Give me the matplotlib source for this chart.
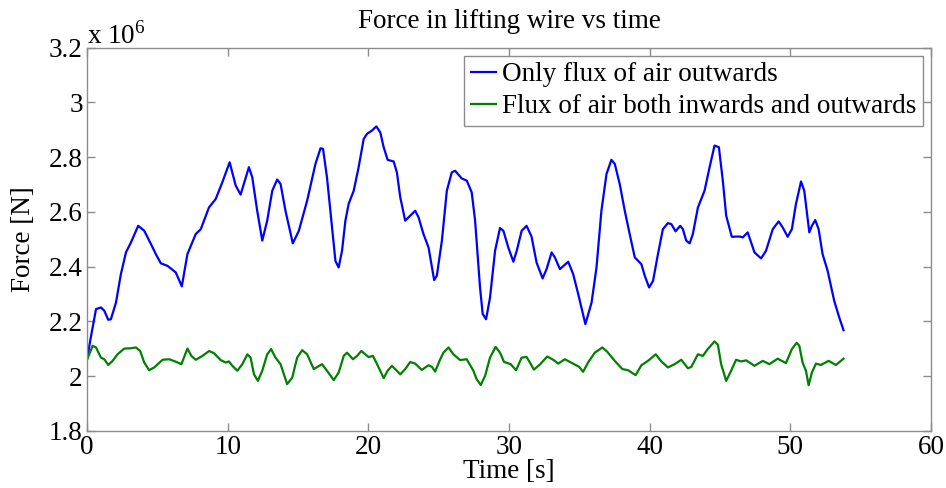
import matplotlib
matplotlib.use("Agg")
import matplotlib.pyplot as plt
from matplotlib.ticker import FormatStrFormatter

# force values in units of 1e6 N
t_out = [0.0, 0.23, 0.64, 1.0, 1.23, 1.51, 1.70, 2.06, 2.41, 2.77, 3.12, 3.64, 4.07, 4.54, 4.89,
         5.25, 5.72, 6.31, 6.74, 7.14, 7.73, 8.09, 8.67, 9.15, 9.62, 10.14, 10.57, 10.92, 11.51,
         11.75, 12.10, 12.46, 12.81, 13.17, 13.52, 13.76, 14.11, 14.63, 15.06, 15.65, 16.24,
         16.60, 16.78, 17.06, 17.42, 17.66, 17.89, 18.13, 18.37, 18.60, 18.96, 19.31, 19.67,
         19.91, 20.26, 20.57, 20.85, 21.09, 21.37, 21.80, 22.03, 22.27, 22.62, 22.98, 23.33,
         23.57, 23.92, 24.28, 24.68, 24.87, 25.23, 25.58, 25.93, 26.17, 26.64, 27.00, 27.35,
         27.59, 27.94, 28.13, 28.37, 28.65, 29.01, 29.36, 29.60, 29.95, 30.31, 30.55, 30.90,
         31.25, 31.60, 31.96, 32.39, 32.67, 33.03, 33.26, 33.62, 34.21, 34.56, 34.92, 35.43,
         35.87, 36.22, 36.57, 36.93, 37.28, 37.52, 37.87, 38.23, 38.58, 38.94, 39.41, 39.65,
         39.96, 40.24, 40.59, 40.94, 41.30, 41.54, 41.84, 42.17, 42.36, 42.60, 42.84, 43.07,
         43.43, 43.90, 44.26, 44.61, 44.92, 45.20, 45.44, 45.84, 46.38, 46.62, 46.97, 47.45,
         47.92, 48.27, 48.75, 49.17, 49.46, 49.81, 50.11, 50.40, 50.76, 50.99, 51.35, 51.53,
         51.77, 52.01, 52.29, 52.65, 53.12, 53.48, 53.78]
f_out = [2.06, 2.13, 2.245, 2.251, 2.239, 2.206, 2.208, 2.269, 2.373, 2.452, 2.488, 2.549, 2.531,
         2.483, 2.446, 2.412, 2.403, 2.379, 2.328, 2.446, 2.519, 2.537, 2.616, 2.647, 2.708,
         2.781, 2.696, 2.663, 2.763, 2.726, 2.604, 2.495, 2.568, 2.677, 2.718, 2.702, 2.604,
         2.485, 2.531, 2.641, 2.775, 2.832, 2.830, 2.726, 2.543, 2.421, 2.397, 2.458, 2.568,
         2.629, 2.677, 2.763, 2.866, 2.885, 2.897, 2.912, 2.890, 2.836, 2.790, 2.784, 2.744,
         2.653, 2.568, 2.586, 2.604, 2.580, 2.519, 2.470, 2.351, 2.367, 2.495, 2.677, 2.744,
         2.750, 2.722, 2.714, 2.671, 2.568, 2.324, 2.227, 2.208, 2.287, 2.458, 2.541, 2.531,
         2.470, 2.418, 2.458, 2.531, 2.549, 2.510, 2.415, 2.357, 2.391, 2.452, 2.434, 2.391,
         2.418, 2.373, 2.300, 2.190, 2.269, 2.397, 2.604, 2.738, 2.790, 2.775, 2.702, 2.604,
         2.519, 2.434, 2.409, 2.367, 2.324, 2.348, 2.446, 2.537, 2.559, 2.555, 2.529, 2.549,
         2.537, 2.495, 2.485, 2.519, 2.616, 2.677, 2.763, 2.842, 2.836, 2.714, 2.586, 2.509,
         2.510, 2.507, 2.525, 2.452, 2.430, 2.458, 2.537, 2.565, 2.543, 2.509, 2.537, 2.629,
         2.711, 2.677, 2.525, 2.549, 2.570, 2.537, 2.446, 2.385, 2.275, 2.214, 2.168]

t_both = [0.0, 0.40, 0.64, 0.99, 1.23, 1.51, 1.82, 2.17, 2.65, 3.12, 3.48, 3.78, 4.07, 4.42,
          4.78, 5.37, 5.84, 6.31, 6.71, 7.14, 7.42, 7.73, 8.20, 8.68, 9.03, 9.50, 9.86, 10.09,
          10.33, 10.69, 11.04, 11.40, 11.63, 11.87, 12.15, 12.46, 12.81, 13.09, 13.40, 13.76,
          14.23, 14.59, 14.94, 15.30, 15.65, 16.12, 16.71, 17.06, 17.54, 17.89, 18.25, 18.48,
          18.91, 19.20, 19.50, 19.79, 20.02, 20.33, 20.62, 21.09, 21.37, 21.68, 22.27, 22.62,
          22.98, 23.33, 23.80, 24.28, 24.52, 24.75, 25.11, 25.34, 25.70, 26.05, 26.52, 26.99,
          27.47, 27.70, 27.99, 28.30, 28.65, 29.05, 29.36, 29.65, 30.12, 30.50, 30.90, 31.25,
          31.49, 31.77, 32.20, 32.72, 33.14, 33.50, 33.97, 34.56, 34.99, 35.27, 35.62, 36.10,
          36.64, 36.97, 37.52, 38.06, 38.46, 39.00, 39.41, 39.88, 40.43, 40.83, 41.30, 41.77,
          42.25, 42.72, 42.96, 43.43, 43.78, 44.13, 44.61, 44.85, 45.08, 45.44, 45.79, 46.14,
          46.50, 46.86, 47.45, 48.04, 48.51, 49.10, 49.69, 50.11, 50.45, 50.64, 50.87, 51.11,
          51.30, 51.53, 51.82, 52.17, 52.72, 53.24, 53.78]
f_both = [2.06, 2.111, 2.105, 2.068, 2.062, 2.041, 2.056, 2.080, 2.101, 2.102, 2.105, 2.092,
          2.050, 2.022, 2.032, 2.060, 2.062, 2.053, 2.044, 2.101, 2.074, 2.060, 2.074, 2.092,
          2.084, 2.059, 2.050, 2.054, 2.038, 2.020, 2.044, 2.080, 2.068, 2.007, 1.983, 2.020,
          2.080, 2.099, 2.068, 2.044, 1.971, 1.995, 2.068, 2.095, 2.080, 2.026, 2.044, 2.020,
          1.986, 2.013, 2.074, 2.086, 2.062, 2.074, 2.092, 2.080, 2.070, 2.074, 2.044, 1.993,
          2.020, 2.038, 2.007, 2.026, 2.052, 2.046, 2.023, 2.040, 2.034, 2.017, 2.062, 2.086,
          2.105, 2.080, 2.059, 2.062, 2.020, 1.989, 1.968, 2.001, 2.068, 2.107, 2.086, 2.052,
          2.044, 2.022, 2.068, 2.070, 2.050, 2.024, 2.043, 2.072, 2.060, 2.046, 2.062, 2.046,
          2.034, 2.016, 2.050, 2.086, 2.105, 2.090, 2.056, 2.026, 2.022, 2.004, 2.040, 2.056,
          2.080, 2.054, 2.032, 2.044, 2.060, 2.029, 2.034, 2.080, 2.074, 2.099, 2.127, 2.115,
          2.044, 1.983, 2.020, 2.060, 2.054, 2.058, 2.038, 2.056, 2.044, 2.064, 2.048, 2.099,
          2.122, 2.111, 2.050, 2.020, 1.967, 2.013, 2.046, 2.041, 2.056, 2.041, 2.064]

labels = ["Only flux of air outwards", "Flux of air both inwards and outwards"]

plt.rcParams["font.family"] = ["Liberation Serif", "DejaVu Serif"]
plt.rcParams["mathtext.fontset"] = "custom"
plt.rcParams["mathtext.rm"] = "Liberation Serif"

fs = 19.5
axis_grey = "#8c8c8c"

fig = plt.figure(figsize=(9.46, 4.88), dpi=100)
ax = fig.add_axes([87 / 946, 1 - 431 / 488, 844 / 946, 383.5 / 488])

ax.plot(t_out, f_out, color=(0, 0, 1), lw=1.6, label=labels[0])
ax.plot(t_both, f_both, color=(0, 0.5, 0), lw=1.6, label=labels[1])

ax.set_xlim(0, 60)
ax.set_ylim(1.8, 3.2)
ax.set_xticks(range(0, 61, 10))
ax.set_yticks([1.8, 2.0, 2.2, 2.4, 2.6, 2.8, 3.0, 3.2])
ax.yaxis.set_major_formatter(FormatStrFormatter("%g"))

for s in ax.spines.values():
    s.set_color(axis_grey)
    s.set_linewidth(1.0)
ax.tick_params(direction="in", length=6, width=1.0, color=axis_grey,
               top=True, right=True, labelsize=fs, pad=3)

ax.set_title("Force in lifting wire vs time", fontsize=fs, pad=14)
ax.set_xlabel("Time [s]", fontsize=fs, labelpad=-1)
ax.set_ylabel("Force [N]", fontsize=fs, labelpad=9)
ax.text(0, 1.01, r"x 10$^{6}$", transform=ax.transAxes, fontsize=fs,
        ha="left", va="baseline")

leg = ax.legend(loc="upper right", fancybox=False, framealpha=1, edgecolor=axis_grey,
                handlelength=0.95, handletextpad=0.2, borderpad=0.25,
                labelspacing=0.25, borderaxespad=0.3, fontsize=fs)
leg.get_frame().set_linewidth(1.0)

fig.savefig("out.png", dpi=100)
